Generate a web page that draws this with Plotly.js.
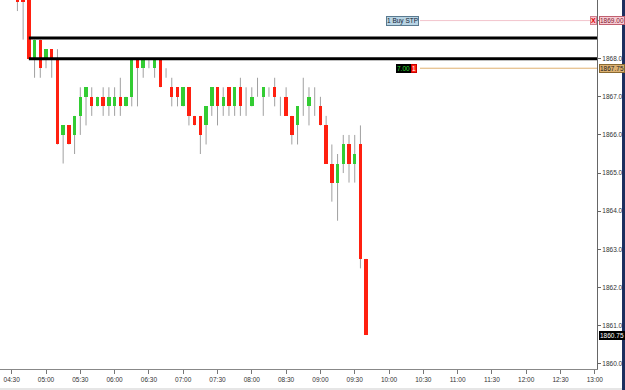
<!DOCTYPE html>
<html><head><meta charset="utf-8">
<script src="https://cdn.plot.ly/plotly-3.0.1.min.js"></script>
<style>html,body{margin:0;padding:0;background:#fff;}#chart{width:625px;height:390px;}</style>
</head><body><div id="chart"></div>
<script>
const sessionDate = '2014-03-13';
const times = ['04:35','04:40','04:45','04:50','04:55','05:00','05:05','05:10','05:15','05:20',
  '05:25','05:30','05:35','05:40','05:45','05:50','05:55','06:00','06:05','06:10',
  '06:15','06:20','06:25','06:30','06:35','06:40','06:45','06:50','06:55','07:00',
  '07:05','07:10','07:15','07:20','07:25','07:30','07:35','07:40','07:45','07:50',
  '07:55','08:00','08:05','08:10','08:15','08:20','08:25','08:30','08:35','08:40',
  '08:45','08:50','08:55','09:00','09:05','09:10','09:15','09:20','09:25','09:30',
  '09:35','09:40'];
const opens = [1870.00,1869.75,1869.75,1868.00,1868.50,1868.00,1868.25,1868.00,1866.00,1866.25,
  1866.00,1866.50,1867.00,1867.00,1866.75,1867.00,1866.75,1866.75,1867.00,1866.75,
  1867.00,1868.00,1867.75,1868.00,1867.75,1868.00,1867.50,1867.25,1867.25,1866.75,
  1867.25,1866.50,1866.50,1866.25,1866.75,1867.25,1866.75,1867.25,1866.75,1867.25,
  1867.00,1866.75,1867.25,1867.00,1867.25,1867.25,1866.75,1867.00,1866.50,1866.25,
  1867.00,1866.75,1867.00,1866.75,1866.25,1865.25,1864.75,1865.25,1865.75,1865.25,
  1865.75,1862.75];
const highs = [1870.25,1869.75,1869.75,1868.50,1868.50,1868.25,1868.25,1868.25,1866.25,1866.25,
  1866.50,1867.25,1867.25,1867.25,1867.00,1867.25,1867.25,1867.25,1867.50,1867.00,
  1868.00,1868.00,1868.00,1868.00,1868.00,1868.00,1867.75,1867.50,1867.25,1867.25,
  1867.25,1866.50,1866.50,1866.75,1867.25,1867.25,1867.25,1867.25,1867.25,1867.50,
  1867.25,1867.25,1867.50,1867.25,1867.25,1867.50,1867.00,1867.25,1866.50,1866.75,
  1867.50,1867.25,1867.25,1867.00,1866.50,1865.75,1865.50,1866.00,1866.00,1866.00,
  1866.25,1862.75];
const lows = [1869.25,1868.50,1868.00,1867.50,1867.50,1867.75,1867.50,1865.75,1865.25,1865.75,
  1865.50,1866.00,1866.25,1866.50,1866.75,1866.50,1866.50,1866.50,1866.50,1866.75,
  1866.75,1866.75,1867.50,1867.75,1867.50,1867.25,1867.50,1866.75,1866.75,1866.75,
  1866.25,1866.25,1865.50,1865.75,1866.50,1866.25,1866.50,1866.50,1866.50,1866.50,
  1866.50,1866.75,1867.00,1866.50,1867.00,1866.75,1866.50,1866.50,1865.75,1865.75,
  1866.50,1866.25,1866.50,1866.25,1865.25,1864.25,1863.75,1865.00,1864.75,1864.75,
  1862.50,1860.75];
const closes = [1869.50,1869.50,1868.00,1868.50,1867.75,1868.25,1868.00,1865.75,1866.25,1865.75,
  1866.50,1867.00,1867.25,1866.75,1867.00,1866.75,1867.00,1867.00,1866.75,1867.00,
  1868.00,1867.75,1868.00,1868.00,1868.00,1867.25,1867.50,1867.00,1867.00,1867.25,
  1866.50,1866.25,1866.00,1866.75,1867.25,1866.75,1867.00,1866.75,1867.25,1866.75,
  1867.00,1867.00,1867.25,1867.25,1867.25,1867.00,1866.75,1866.50,1866.00,1866.75,
  1867.00,1867.00,1867.00,1866.25,1865.25,1864.75,1865.25,1865.75,1865.25,1865.50,
  1862.75,1860.75];
const yTicks = [1860, 1861, 1862, 1863, 1864, 1865, 1866, 1867, 1868];
const zoneLevels = [1868.54, 1868.00];
const zoneStart = '04:45';
const orderPrice = 1869.00;
const orderLabel = '1 Buy STP';
const positionPrice = 1867.75;
const positionPnl = '7.00';
const positionQty = '1';
const xStart = '04:19:46', xEnd = '13:01:54';
const yRange = [1859.86, 1869.54];
const xTick0 = '04:30';

const UP = '#33cc33', DOWN = '#ff2010', WICK = '#a0a0a0';
const FONT = 'Liberation Sans Narrow, Arial Narrow, Liberation Sans, Arial, sans-serif';

const x = times.map(t => sessionDate + ' ' + t);
const wx = [], wy = [];
x.forEach((t, i) => { wx.push(t, t, null); wy.push(highs[i], lows[i], null); });
const bodyBase = opens.map((o, i) => Math.min(o, closes[i]));
const bodyLen = opens.map((o, i) => Math.abs(closes[i] - o));
const bodyCol = opens.map((o, i) => closes[i] > o ? UP : (closes[i] < o ? DOWN : 'rgba(0,0,0,0)'));
const xr = [sessionDate + ' ' + xStart, sessionDate + ' ' + xEnd];

const data = [
  {type: 'scatter', mode: 'lines', x: wx, y: wy, line: {color: WICK, width: 1}, hoverinfo: 'skip', showlegend: false},
  {type: 'bar', x: x, y: bodyLen, base: bodyBase, width: 180000, marker: {color: bodyCol, line: {width: 0}},
   xaxis: 'x2', yaxis: 'y2', showlegend: false, hoverinfo: 'skip'}
];

const lastPrice = closes[closes.length - 1];
const fs = 6.5;
const layout = {
  width: 625, height: 390,
  margin: {l: 0, r: 28, t: 0, b: 21, pad: 0},
  paper_bgcolor: '#ffffff', plot_bgcolor: '#ffffff',
  showlegend: false,
  font: {family: FONT, size: fs, color: '#333'},
  xaxis: {type: 'date', range: xr, tick0: sessionDate + ' ' + xTick0, dtick: 1800000, tickformat: '%H:%M',
    ticks: 'outside', ticklen: 4, tickcolor: '#777', showline: true, linecolor: '#888', linewidth: 1,
    showgrid: false, zeroline: false, tickfont: {family: FONT, size: fs, color: '#333'}, automargin: false, fixedrange: true},
  yaxis: {side: 'right', range: yRange, tickmode: 'array', tickvals: yTicks, ticktext: yTicks.map(v => v.toFixed(2)),
    ticks: 'outside', ticklen: 3, tickcolor: '#666', showline: true, linecolor: '#666', linewidth: 1,
    showgrid: false, zeroline: false, tickfont: {family: FONT, size: fs, color: '#333'}, automargin: false, fixedrange: true},
  xaxis2: {type: 'date', overlaying: 'x', range: xr, visible: false, fixedrange: true},
  yaxis2: {overlaying: 'y', range: yRange, visible: false, fixedrange: true},
  bargap: 0,
  shapes: [
    ...zoneLevels.map(v => ({type: 'line', xref: 'x', yref: 'y', x0: sessionDate + ' ' + zoneStart, x1: xr[1],
      y0: v, y1: v, line: {color: '#000', width: 3}, layer: 'above'})),
    {type: 'line', xref: 'paper', yref: 'y', x0: 0.7035, x1: 1, y0: orderPrice, y1: orderPrice, line: {color: '#f2c4cc', width: 1}},
    {type: 'line', xref: 'paper', yref: 'y', x0: 0.7035, x1: 1, y0: positionPrice, y1: positionPrice, line: {color: '#e0b070', width: 1}},
    {type: 'line', xref: 'paper', yref: 'paper', x0: 1, x1: 1.006, y0: (orderPrice - yRange[0]) / (yRange[1] - yRange[0]), y1: (orderPrice - yRange[0]) / (yRange[1] - yRange[0]), line: {color: '#666', width: 1}},
    {type: 'rect', xref: 'paper', yref: 'paper', x0: 1.0419, x1: 1.05, y0: -0.06, y1: 1, line: {width: 0}, fillcolor: '#1c2e5e'},
    {type: 'rect', xref: 'paper', yref: 'paper', x0: 0, x1: 1.0419, y0: -0.06, y1: -0.0515, line: {width: 0}, fillcolor: '#e6e6e6'}
  ],
  annotations: [
    {xref: 'paper', yref: 'y', x: 0.7018, xanchor: 'right', y: orderPrice, text: orderLabel, showarrow: false,
      bgcolor: '#b8d4e4', bordercolor: '#5a7a90', borderwidth: 1, borderpad: 0, font: {size: fs, color: '#123', family: FONT}},
    {xref: 'paper', yref: 'y', x: 0.9992, xanchor: 'right', y: orderPrice, text: '<b>X</b>', showarrow: false,
      bgcolor: '#f8c8d0', bordercolor: '#d08090', borderwidth: 1, borderpad: 0, font: {size: 7, color: '#e00000', family: FONT}},
    {xref: 'paper', yref: 'y', x: 1, xanchor: 'left', xshift: 2, y: orderPrice, text: orderPrice.toFixed(2), showarrow: false,
      bgcolor: '#f8ccd4', bordercolor: '#c06070', borderwidth: 1, borderpad: 0, font: {size: fs, color: '#802030', family: FONT}},
    {xref: 'paper', yref: 'y', x: 0.6884, xanchor: 'right', y: positionPrice, text: positionPnl, showarrow: false,
      bgcolor: '#000000', bordercolor: '#000', borderwidth: 1, borderpad: 0, font: {size: fs, color: '#33dd33', family: FONT}},
    {xref: 'paper', yref: 'y', x: 0.6884, xanchor: 'left', y: positionPrice, text: positionQty, showarrow: false,
      bgcolor: '#ff2010', bordercolor: '#c00', borderwidth: 1, borderpad: 0, font: {size: fs, color: '#fff', family: FONT}},
    {xref: 'paper', yref: 'y', x: 1, xanchor: 'left', xshift: 2, y: positionPrice, text: positionPrice.toFixed(2), showarrow: false,
      bgcolor: '#dcb070', bordercolor: '#8a6a30', borderwidth: 1, borderpad: 0, font: {size: fs, color: '#222', family: FONT}},
    {xref: 'paper', yref: 'y', x: 1, xanchor: 'left', xshift: 2, y: lastPrice, text: lastPrice.toFixed(2), showarrow: false,
      bgcolor: '#000000', bordercolor: '#000', borderwidth: 1, borderpad: 0, font: {size: fs, color: '#fff', family: FONT}}
  ]
};
Plotly.newPlot('chart', data, layout, {displayModeBar: false, staticPlot: true});
</script></body></html>
